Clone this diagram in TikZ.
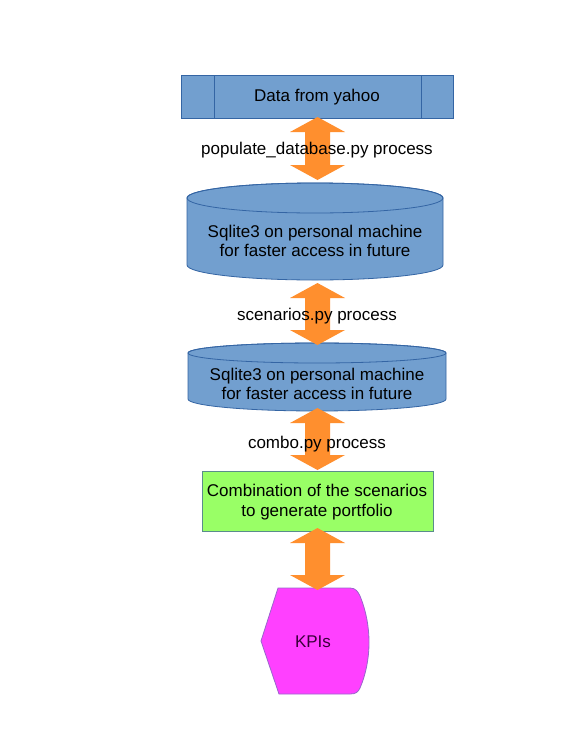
\documentclass[tikz,border=0pt]{standalone}
\usepackage{fontspec}
\setmainfont{Liberation Sans}
\usetikzlibrary{calc}
\definecolor{boxblue}{HTML}{729FCF}
\definecolor{boxline}{HTML}{3465A4}
\definecolor{arroworange}{HTML}{FF8F2E}
\definecolor{boxgreen}{HTML}{99FF66}
\definecolor{greenline}{HTML}{5A8C8C}
\definecolor{kpimagenta}{HTML}{FF40FF}
\definecolor{kpiline}{HTML}{9966CC}
\definecolor{kpitext}{HTML}{3A003A}
\tikzset{
  lbl/.style={font=\fontsize{17}{19.5}\selectfont, text=black, inner sep=0pt, align=center},
  blockarrow/.style={fill=arroworange, draw=none},
  bluefill/.style={fill=boxblue, draw=boxline, line width=0.8pt},
}
\begin{document}
\begin{tikzpicture}[x=1pt,y=-1pt]
\useasboundingbox (0,0) rectangle (576,745);
\fill[white] (0,0) rectangle (576,745);

% Data from yahoo
\draw[bluefill] (181,75) rectangle (453,118);
\draw[boxline, line width=0.8pt] (214,75) -- (214,118) (421,75) -- (421,118);
\node[lbl] (yahoo) at (317,97) {Data from yahoo};

% cylinder 1
\draw[bluefill] (187,198) -- (187,265) arc[start angle=180,end angle=0,x radius=128,y radius=15]
   -- (443,198) arc[start angle=0,end angle=-180,x radius=128,y radius=15] -- cycle;
\draw[boxline, line width=0.8pt] (315,198) ellipse [x radius=128,y radius=15];
\node[lbl] (db1) at (315,241) {Sqlite3 on personal machine\\ for faster access in future};

% cylinder 2
\draw[bluefill] (188,353) -- (188,399) arc[start angle=180,end angle=0,x radius=129,y radius=12]
   -- (446,353) arc[start angle=0,end angle=-180,x radius=129,y radius=10] -- cycle;
\draw[boxline, line width=0.8pt] (317,353) ellipse [x radius=129,y radius=10];
\node[lbl] (db2) at (317,384) {Sqlite3 on personal machine\\ for faster access in future};

% green box
\draw[fill=boxgreen, draw=greenline, line width=0.8pt] (202,471) rectangle (433,531);
\node[lbl] (combo) at (317,502) {Combination of the scenarios\\ to generate portfolio};

% KPIs
\draw[fill=kpimagenta, draw=kpiline, line width=0.8pt] (278,588) -- (350,588)
  .. controls (356,588) and (358,592) .. (360,596)
  .. controls (372,625) and (372,660) .. (360,688)
  .. controls (358,692) and (356,694) .. (350,694) -- (279,694) -- (261,641) -- cycle;
\node[lbl, text=kpitext] (kpi) at (313,642) {KPIs};

% block arrows
\foreach \t/\b in {117/180, 283/345, 408/470, 528/590}{
  \fill[blockarrow] (317.5,\t) -- (345,\t+15) -- (330,\t+15) -- (330,\b-15) -- (345,\b-15)
     -- (317.5,\b) -- (290,\b-15) -- (305,\b-15) -- (305,\t+15) -- (290,\t+15) -- cycle;
}

% labels
\node[lbl] (l1) at (317,150) {populate\_database.py process};
\node[lbl] (l2) at (317,316) {scenarios.py process};
\node[lbl] (l3) at (317,444) {combo.py process};
\end{tikzpicture}
\end{document}
